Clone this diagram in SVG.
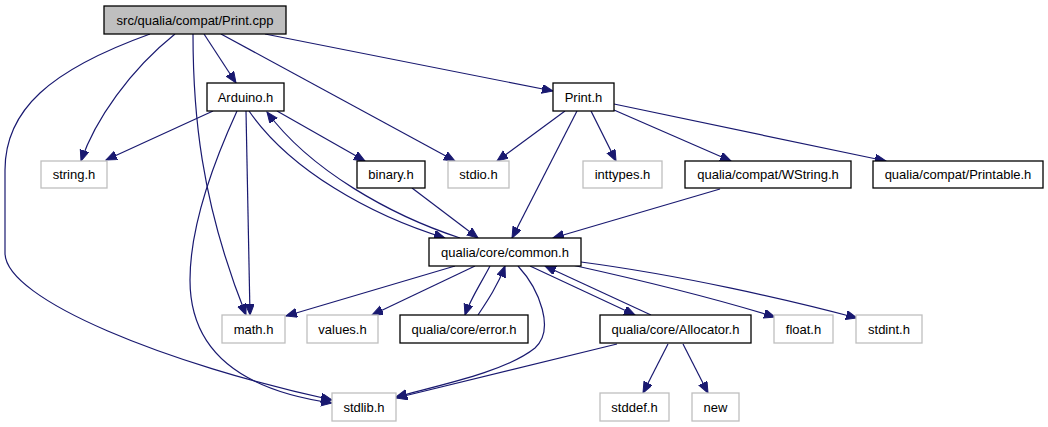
<svg xmlns="http://www.w3.org/2000/svg" width="1048" height="427" viewBox="0 0 1048 427">
<style>
.n rect{fill:#fff;stroke:#000;stroke-width:1.3}
.g rect{fill:#fff;stroke:#bfbfbf;stroke-width:1.3}
.root rect{fill:#bfbfbf;stroke:#000;stroke-width:1.3}
text{font-family:"Liberation Sans",Arial,sans-serif;font-size:13px;fill:#000;text-anchor:middle}
#edges path{fill:none;stroke:#191970;stroke-width:1.2;marker-end:url(#arr)}
</style>
<defs>
<marker id="arr" markerUnits="userSpaceOnUse" markerWidth="12" markerHeight="10" refX="11" refY="4.5" orient="auto">
<path d="M0,0 L11,4.5 L0,9 z" fill="#191970" stroke="#191970" stroke-width="1"/>
</marker>
</defs>
<rect width="1048" height="427" fill="#fff"/>
<g id="edges">
<path d="M150,34 C50,70 5,110 5,170 L5,253 C5,300 170,365 332,400"/>
<path d="M175,34 C130,70 95,120 81,161"/>
<path d="M193,34 C193,110 200,200 246,315"/>
<path d="M204,34 L236,83"/>
<path d="M221,34 L455,161"/>
<path d="M265,34 L553,91"/>
<path d="M213,111 L106,160"/>
<path d="M237,111 C210,170 190,230 190,280 C190,350 240,390 332,403"/>
<path d="M246,111 L250,315"/>
<path d="M277,111 L365,161"/>
<path d="M249,111 C290,170 370,215 445,238"/>
<path d="M460,238 C390,215 310,170 267,112"/>
<path d="M412,188 L478,238"/>
<path d="M577,111 L512,238"/>
<path d="M720,189 L553,238"/>
<path d="M565,111 L497,161"/>
<path d="M591,111 L616,161"/>
<path d="M614,110 L731,161"/>
<path d="M614,104 L886,161"/>
<path d="M455,266 L286,316"/>
<path d="M475,266 L372,315"/>
<path d="M490,266 C480,285 470,300 465,315"/>
<path d="M478,315 C488,300 498,285 505,266"/>
<path d="M518,266 C540,290 555,330 535,348 C505,372 440,385 396,397"/>
<path d="M530,266 L635,315"/>
<path d="M651,315 L545,266"/>
<path d="M572,265 C640,280 720,300 775,317"/>
<path d="M581,262 C680,275 790,300 857,318"/>
<path d="M617,344 L396,398"/>
<path d="M668,344 L643,393"/>
<path d="M683,344 L708,393"/>
</g>
<g id="printcpp" class="root"><rect x="104" y="6" width="182" height="28"/><text x="195" y="24.5">src/qualia/compat/Print.cpp</text></g>
<g id="arduino" class="n"><rect x="207" y="83" width="77" height="28"/><text x="245.5" y="101.5">Arduino.h</text></g>
<g id="printh" class="n"><rect x="553" y="83" width="61" height="28"/><text x="583.5" y="101.5">Print.h</text></g>
<g id="stringh" class="g"><rect x="41" y="161" width="66" height="27"/><text x="74" y="179">string.h</text></g>
<g id="binary" class="n"><rect x="357" y="161" width="68" height="27"/><text x="391" y="179">binary.h</text></g>
<g id="stdio" class="g"><rect x="448" y="161" width="61" height="27"/><text x="478.5" y="179">stdio.h</text></g>
<g id="inttypes" class="g"><rect x="583" y="161" width="79" height="27"/><text x="622.5" y="179">inttypes.h</text></g>
<g id="wstring" class="n"><rect x="685" y="161" width="166" height="27"/><text x="768" y="179">qualia/compat/WString.h</text></g>
<g id="printable" class="n"><rect x="873" y="161" width="170" height="27"/><text x="958" y="179">qualia/compat/Printable.h</text></g>
<g id="common" class="n"><rect x="429" y="238" width="152" height="28"/><text x="505" y="256.5">qualia/core/common.h</text></g>
<g id="math" class="g"><rect x="222" y="315" width="63" height="28"/><text x="253.5" y="333.5">math.h</text></g>
<g id="values" class="g"><rect x="307" y="315" width="71" height="28"/><text x="342.5" y="333.5">values.h</text></g>
<g id="error" class="n"><rect x="400" y="315" width="128" height="28"/><text x="464" y="333.5">qualia/core/error.h</text></g>
<g id="allocator" class="n"><rect x="600" y="315" width="151" height="28"/><text x="675.5" y="333.5">qualia/core/Allocator.h</text></g>
<g id="float" class="g"><rect x="774" y="315" width="59" height="28"/><text x="803.5" y="333.5">float.h</text></g>
<g id="stdint" class="g"><rect x="856" y="315" width="66" height="28"/><text x="889" y="333.5">stdint.h</text></g>
<g id="stdlib" class="g"><rect x="332" y="393" width="64" height="28"/><text x="364" y="411.5">stdlib.h</text></g>
<g id="stddef" class="g"><rect x="600" y="393" width="69" height="28"/><text x="634.5" y="411.5">stddef.h</text></g>
<g id="new" class="g"><rect x="692" y="393" width="47" height="28"/><text x="715.5" y="411.5">new</text></g>
</svg>
